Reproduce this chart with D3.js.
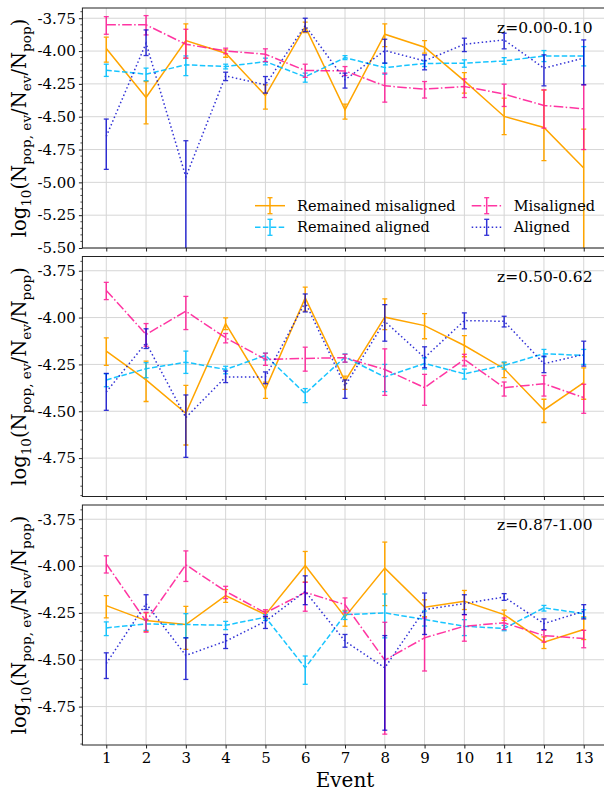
<!DOCTYPE html>
<html>
<head>
<meta charset="utf-8">
<script src="https://cdn.jsdelivr.net/npm/d3@7"></script>
<style>
body { margin: 0; background: #fff; }
svg text { font-family: "DejaVu Serif", serif; fill: #000; }
</style>
</head>
<body>
<svg id="fig" width="604" height="792"></svg>
<script>
var events = [1, 2, 3, 4, 5, 6, 7, 8, 9, 10, 11, 12, 13];
var seriesNames = ["Remained misaligned", "Remained aligned", "Misaligned", "Aligned"];
var zLabels = ["z=0.00-0.10", "z=0.50-0.62", "z=0.87-1.00"];
var yTicks1 = [-3.75, -4.00, -4.25, -4.50, -4.75, -5.00, -5.25, -5.50];
var yTicks23 = [-3.75, -4.00, -4.25, -4.50, -4.75];

// panel 1 : z=0.00-0.10
var p1_rm    = [-3.980, -4.354, -3.920, -4.016, -4.339, -3.814, -4.447, -3.872, -3.971, -4.227, -4.498, -4.582, -4.891];
var p1_rm_lo = [-4.085, -4.554, -4.054, -4.047, -4.442, -3.860, -4.518, -3.966, -4.016, -4.320, -4.637, -4.835, -5.800];
var p1_rm_hi = [-3.894, -4.232, -3.793, -3.991, -4.257, -3.780, -4.404, -3.793, -3.920, -4.164, -4.358, -4.298, -4.594];
var p1_ra    = [-4.146, -4.176, -4.105, -4.118, -4.080, -4.196, -4.050, -4.126, -4.095, -4.092, -4.075, -4.037, -4.037];
var p1_ra_lo = [-4.193, -4.226, -4.187, -4.136, -4.105, -4.237, -4.065, -4.176, -4.118, -4.123, -4.100, -4.080, -4.113];
var p1_ra_hi = [-4.100, -4.130, -4.037, -4.100, -4.054, -4.168, -4.035, -4.092, -4.075, -4.067, -4.050, -3.996, -3.966];
var p1_m     = [-3.800, -3.800, -3.948, -3.999, -4.024, -4.148, -4.151, -4.265, -4.290, -4.270, -4.328, -4.414, -4.440];
var p1_m_lo  = [-3.872, -3.877, -4.054, -4.021, -4.080, -4.200, -4.186, -4.389, -4.358, -4.354, -4.422, -4.587, -4.750];
var p1_m_hi  = [-3.738, -3.730, -3.834, -3.978, -3.983, -4.100, -4.118, -4.168, -4.232, -4.212, -4.252, -4.295, -4.257];
var p1_a     = [-4.650, -3.940, -4.959, -4.189, -4.257, -3.806, -4.219, -3.996, -4.075, -3.948, -3.915, -4.130, -4.054];
var p1_a_lo  = [-4.901, -4.034, -5.800, -4.225, -4.320, -3.852, -4.282, -4.092, -4.143, -4.004, -3.983, -4.265, -4.257];
var p1_a_hi  = [-4.518, -3.839, -4.683, -4.161, -4.194, -3.750, -4.168, -3.910, -4.029, -3.902, -3.864, -4.029, -3.915];

// panel 2 : z=0.50-0.62
var p2_rm    = [-4.179, -4.333, -4.511, -4.032, -4.383, -3.895, -4.339, -3.998, -4.043, -4.149, -4.273, -4.493, -4.347];
var p2_rm_lo = [-4.255, -4.448, -4.680, -4.064, -4.431, -3.966, -4.383, -4.064, -4.113, -4.209, -4.321, -4.560, -4.436];
var p2_rm_hi = [-4.108, -4.232, -4.362, -4.002, -4.344, -3.837, -4.312, -3.900, -3.979, -4.096, -4.241, -4.436, -4.268];
var p2_ra    = [-4.333, -4.273, -4.238, -4.277, -4.202, -4.406, -4.211, -4.317, -4.245, -4.300, -4.255, -4.193, -4.202];
var p2_ra_lo = [-4.369, -4.321, -4.298, -4.300, -4.226, -4.454, -4.238, -4.395, -4.275, -4.328, -4.275, -4.210, -4.250];
var p2_ra_hi = [-4.300, -4.241, -4.179, -4.260, -4.190, -4.379, -4.194, -4.250, -4.215, -4.275, -4.237, -4.170, -4.170];
var p2_m     = [-3.855, -4.090, -3.966, -4.108, -4.223, -4.218, -4.214, -4.277, -4.374, -4.223, -4.374, -4.353, -4.427];
var p2_m_lo  = [-3.904, -4.153, -4.064, -4.135, -4.255, -4.286, -4.238, -4.415, -4.468, -4.258, -4.419, -4.419, -4.511];
var p2_m_hi  = [-3.812, -4.032, -3.887, -4.085, -4.190, -4.158, -4.196, -4.167, -4.303, -4.196, -4.344, -4.309, -4.356];
var p2_a     = [-4.397, -4.135, -4.534, -4.317, -4.317, -3.918, -4.365, -4.020, -4.214, -4.016, -4.020, -4.246, -4.197];
var p2_a_lo  = [-4.495, -4.165, -4.746, -4.347, -4.353, -3.970, -4.431, -4.126, -4.268, -4.060, -4.050, -4.294, -4.259];
var p2_a_hi  = [-4.298, -4.060, -4.413, -4.285, -4.290, -3.874, -4.333, -3.931, -4.156, -3.975, -3.993, -4.206, -4.126];

// panel 3 : z=0.87-1.00
var p3_rm    = [-4.211, -4.291, -4.312, -4.158, -4.259, -3.997, -4.271, -4.011, -4.220, -4.188, -4.259, -4.406, -4.339];
var p3_rm_lo = [-4.277, -4.348, -4.445, -4.194, -4.277, -4.085, -4.321, -4.211, -4.270, -4.232, -4.290, -4.440, -4.392];
var p3_rm_hi = [-4.158, -4.250, -4.215, -4.126, -4.241, -3.922, -4.236, -3.872, -4.180, -4.130, -4.235, -4.378, -4.271];
var p3_ra    = [-4.330, -4.309, -4.312, -4.316, -4.273, -4.543, -4.259, -4.250, -4.285, -4.321, -4.333, -4.223, -4.254];
var p3_ra_lo = [-4.371, -4.343, -4.383, -4.339, -4.290, -4.631, -4.285, -4.383, -4.320, -4.371, -4.345, -4.240, -4.275];
var p3_ra_hi = [-4.298, -4.286, -4.254, -4.295, -4.259, -4.480, -4.241, -4.149, -4.240, -4.286, -4.317, -4.210, -4.233];
var p3_m     = [-3.988, -4.295, -3.993, -4.135, -4.250, -4.140, -4.206, -4.502, -4.383, -4.321, -4.303, -4.371, -4.387];
var p3_m_lo  = [-4.037, -4.353, -4.082, -4.174, -4.270, -4.241, -4.250, -4.897, -4.560, -4.401, -4.339, -4.406, -4.436];
var p3_m_hi  = [-3.945, -4.247, -3.919, -4.108, -4.233, -4.087, -4.170, -4.300, -4.277, -4.259, -4.277, -4.343, -4.343];
var p3_a     = [-4.520, -4.200, -4.477, -4.401, -4.295, -4.135, -4.401, -4.543, -4.232, -4.200, -4.165, -4.307, -4.241];
var p3_a_lo  = [-4.600, -4.232, -4.605, -4.440, -4.333, -4.206, -4.433, -4.876, -4.365, -4.259, -4.183, -4.339, -4.282];
var p3_a_hi  = [-4.463, -4.153, -4.383, -4.365, -4.268, -4.052, -4.365, -4.371, -4.144, -4.153, -4.147, -4.282, -4.206];

var colors = ["#FFA500", "#00BFFF", "#FF1493", "#0000CD"];
var dashes = [null, "5.5,2.4", "9.6,2.4,1.5,2.4", "1.5,2.5"];
var opac = [1, 0.9, 0.85, 0.8];

var panels = [
    {top: 8, dom: [-5.5, -3.672], ticks: yTicks1, label: zLabels[0],
     series: [[p1_rm, p1_rm_lo, p1_rm_hi], [p1_ra, p1_ra_lo, p1_ra_hi], [p1_m, p1_m_lo, p1_m_hi], [p1_a, p1_a_lo, p1_a_hi]]},
    {top: 256.5, dom: [-4.955, -3.674], ticks: yTicks23, label: zLabels[1],
     series: [[p2_rm, p2_rm_lo, p2_rm_hi], [p2_ra, p2_ra_lo, p2_ra_hi], [p2_m, p2_m_lo, p2_m_hi], [p2_a, p2_a_lo, p2_a_hi]]},
    {top: 505, dom: [-4.955, -3.674], ticks: yTicks23, label: zLabels[2],
     series: [[p3_rm, p3_rm_lo, p3_rm_hi], [p3_ra, p3_ra_lo, p3_ra_hi], [p3_m, p3_m_lo, p3_m_hi], [p3_a, p3_a_lo, p3_a_hi]]}
];

var left = 82.4, right = 607.6, ph = 240;
var svg = d3.select("#fig");
var x = d3.scaleLinear().domain([0.4, 13.6]).range([left, right]);

panels.forEach(function (p, pi) {
    var y = d3.scaleLinear().domain(p.dom).range([p.top + ph, p.top]);
    var bottom = p.top + ph;

    svg.append("clipPath").attr("id", "clip" + pi)
        .append("rect").attr("x", left).attr("y", p.top).attr("width", right - left).attr("height", ph);

    var grid = svg.append("g");
    grid.selectAll(".vg").data(events).enter().append("line")
        .attr("x1", function (d) { return x(d); }).attr("x2", function (d) { return x(d); })
        .attr("y1", p.top).attr("y2", bottom)
        .attr("stroke", "#d6d6d6").attr("stroke-width", 1);
    grid.selectAll(".hg").data(p.ticks).enter().append("line")
        .attr("x1", left).attr("x2", right)
        .attr("y1", function (d) { return y(d); }).attr("y2", function (d) { return y(d); })
        .attr("stroke", "#d6d6d6").attr("stroke-width", 1);

    // x axis
    var xAxis = d3.axisBottom(x).tickValues(events).tickSize(3.5).tickSizeOuter(0).tickPadding(4);
    if (pi < 2) xAxis.tickFormat("");
    var gx = svg.append("g").attr("transform", "translate(0," + bottom + ")").call(xAxis);
    gx.select(".domain").remove();
    gx.selectAll("line").attr("stroke", "#222");
    gx.selectAll("text").attr("font-family", "DejaVu Serif").attr("font-size", 15).attr("fill", "#111");

    // y axis
    var yAxis = d3.axisLeft(y).tickValues(p.ticks).tickSize(3.5).tickSizeOuter(0).tickPadding(3)
        .tickFormat(function (d) { return d.toFixed(2); });
    var gy = svg.append("g").attr("transform", "translate(" + left + ",0)").call(yAxis);
    gy.select(".domain").remove();
    gy.selectAll("line").attr("stroke", "#222");
    gy.selectAll("text").attr("font-family", "DejaVu Serif").attr("font-size", 15).attr("fill", "#111");

    // minor y ticks every 0.05
    var minor = d3.range(Math.ceil(p.dom[0] / 0.05 - 1e-6), Math.floor(p.dom[1] / 0.05 + 1e-6) + 1)
        .map(function (k) { return k * 0.05; })
        .filter(function (v) { return p.ticks.every(function (t) { return Math.abs(t - v) > 1e-6; }); });
    svg.append("g").selectAll("line").data(minor).enter().append("line")
        .attr("x1", left - 2).attr("x2", left)
        .attr("y1", function (d) { return y(d); }).attr("y2", function (d) { return y(d); })
        .attr("stroke", "#222").attr("stroke-width", 0.8);

    var plot = svg.append("g").attr("clip-path", "url(#clip" + pi + ")");
    p.series.forEach(function (s, si) {
        var rows = events.map(function (e, i) { return {x: e, v: s[0][i], lo: s[1][i], hi: s[2][i]}; });
        var g = plot.append("g").attr("opacity", opac[si]);
        var line = d3.line().x(function (d) { return x(d.x); }).y(function (d) { return y(d.v); });
        g.append("path").datum(rows).attr("d", line)
            .attr("fill", "none").attr("stroke", colors[si]).attr("stroke-width", 1.5)
            .attr("stroke-dasharray", dashes[si]);
        g.selectAll(".eb").data(rows).enter().append("line")
            .attr("x1", function (d) { return x(d.x); }).attr("x2", function (d) { return x(d.x); })
            .attr("y1", function (d) { return y(d.lo); }).attr("y2", function (d) { return y(d.hi); })
            .attr("stroke", colors[si]).attr("stroke-width", 1.5);
        ["lo", "hi"].forEach(function (k) {
            g.selectAll(".cap" + k).data(rows).enter().append("line")
                .attr("x1", function (d) { return x(d.x) - 2.5; }).attr("x2", function (d) { return x(d.x) + 2.5; })
                .attr("y1", function (d) { return y(d[k]); }).attr("y2", function (d) { return y(d[k]); })
                .attr("stroke", colors[si]).attr("stroke-width", 1.3);
        });
    });

    // frame
    svg.append("rect").attr("x", left).attr("y", p.top).attr("width", right - left).attr("height", ph)
        .attr("fill", "none").attr("stroke", "#222").attr("stroke-width", 1);

    svg.append("text").attr("x", 592.5).attr("y", p.top + 25).attr("text-anchor", "end")
        .attr("font-size", 15.5).text(p.label);

    // y label
    var yl = svg.append("text")
        .attr("transform", "translate(26," + (p.top + ph / 2) + ") rotate(-90)")
        .attr("text-anchor", "middle").attr("font-size", 19.5);
    var parts = [["log", 0], ["10", 1], ["(N", 0], ["pop, ev", 1], ["/N", 0], ["ev", 1], ["/N", 0], ["pop", 1], [")", 0]];
    var prevSub = 0;
    parts.forEach(function (pt) {
        var t = yl.append("tspan").text(pt[0]);
        if (pt[1] !== prevSub) t.attr("dy", pt[1] ? 5 : -5);
        if (pt[1]) t.attr("font-size", 13.6);
        prevSub = pt[1];
    });

    // legend in first panel
    if (pi === 0) {
        var legPos = [[255, 205.7], [255, 227.3], [471.7, 205.7], [471.7, 227.3]];
        seriesNames.forEach(function (name, si) {
            var lx = legPos[si][0], ly = legPos[si][1];
            var lg = svg.append("g");
            var hg = lg.append("g").attr("opacity", opac[si]);
            hg.append("line").attr("x1", lx).attr("x2", lx + 30).attr("y1", ly).attr("y2", ly)
                .attr("stroke", colors[si]).attr("stroke-width", 1.5).attr("stroke-dasharray", dashes[si]);
            hg.append("line").attr("x1", lx + 15).attr("x2", lx + 15).attr("y1", ly - 8).attr("y2", ly + 8)
                .attr("stroke", colors[si]).attr("stroke-width", 1.5);
            [-8, 8].forEach(function (o) {
                hg.append("line").attr("x1", lx + 12.5).attr("x2", lx + 17.5).attr("y1", ly + o).attr("y2", ly + o)
                    .attr("stroke", colors[si]).attr("stroke-width", 1.3);
            });
            lg.append("text").attr("x", lx + 42).attr("y", ly + 5).attr("font-size", 14.5).text(name);
        });
    }
});

svg.append("text").attr("x", (left + right) / 2).attr("y", 786.5).attr("text-anchor", "middle")
    .attr("font-size", 20).text("Event");
</script>
</body>
</html>
